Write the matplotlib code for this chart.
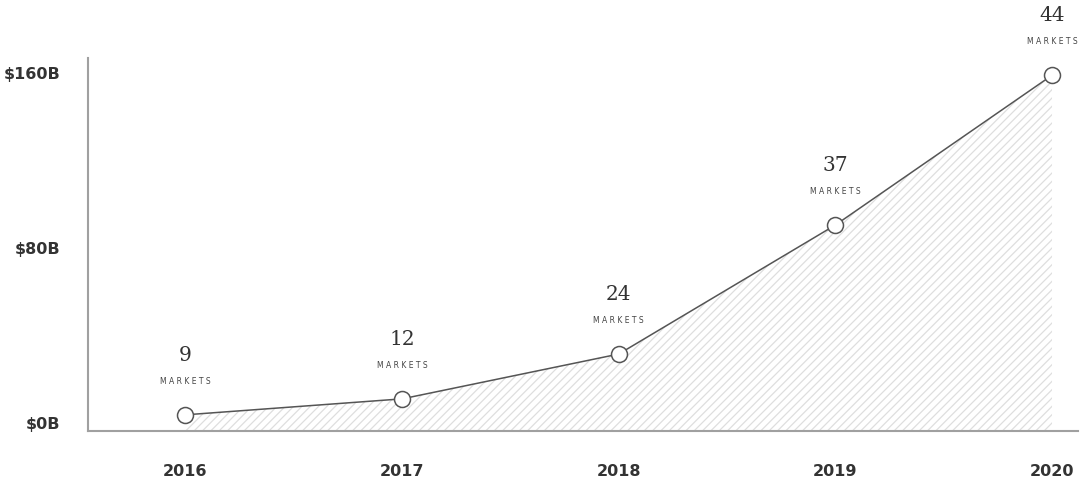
import matplotlib.pyplot as plt

years = [2016, 2017, 2018, 2019, 2020]
revenue_b = [3.7, 11, 31.5, 90.5, 159]
markets = [9, 12, 24, 37, 44]
ytick_vals = [0, 80, 160]
ytick_labels = ['$0B', '$80B', '$160B']

plt.rcParams['hatch.color'] = '#dedede'
plt.rcParams['hatch.linewidth'] = 0.9

fig = plt.figure(figsize=(10.82, 4.83), dpi=100)
ax = fig.add_axes([88 / 1082, 1 - 431 / 483, 990 / 1082, 373 / 483])

# shaded area under the curve
ax.fill_between(years, revenue_b, -3.7, facecolor='none', hatch='////',
                edgecolor='#dedede', linewidth=0)
ax.plot(years, revenue_b, color='#555555', linewidth=1.1, marker='o',
        markersize=11.5, markerfacecolor='white', markeredgecolor='#555555',
        markeredgewidth=1.1, zorder=3)

for x, y, n in zip(years, revenue_b, markets):
    ax.annotate(str(n), (x, y), xytext=(0, 43), textcoords='offset points',
                ha='center', va='center', fontsize=14.5, family='DejaVu Serif',
                color='#333333')
    ax.annotate('M A R K E T S', (x, y), xytext=(0, 24), textcoords='offset points',
                ha='center', va='center', fontsize=5.5, color='#444444')

ax.set_xlim(2015.55, 2020.12)
ax.set_ylim(-3.7, 166.9)
ax.set_xticks(years)
ax.set_xticklabels([str(y) for y in years])
ax.set_yticks(ytick_vals)
ax.set_yticklabels(ytick_labels)
ax.tick_params(length=0, labelsize=11.5, labelcolor='#333333')
ax.tick_params(axis='x', pad=24)
ax.tick_params(axis='y', pad=20)
for lbl in ax.get_xticklabels() + ax.get_yticklabels():
    lbl.set_fontweight('semibold')

for s in ['top', 'right']:
    ax.spines[s].set_visible(False)
for s in ['left', 'bottom']:
    ax.spines[s].set_color('#a0a0a0')
    ax.spines[s].set_linewidth(1.5)

fig.savefig('out.png', dpi=100)
